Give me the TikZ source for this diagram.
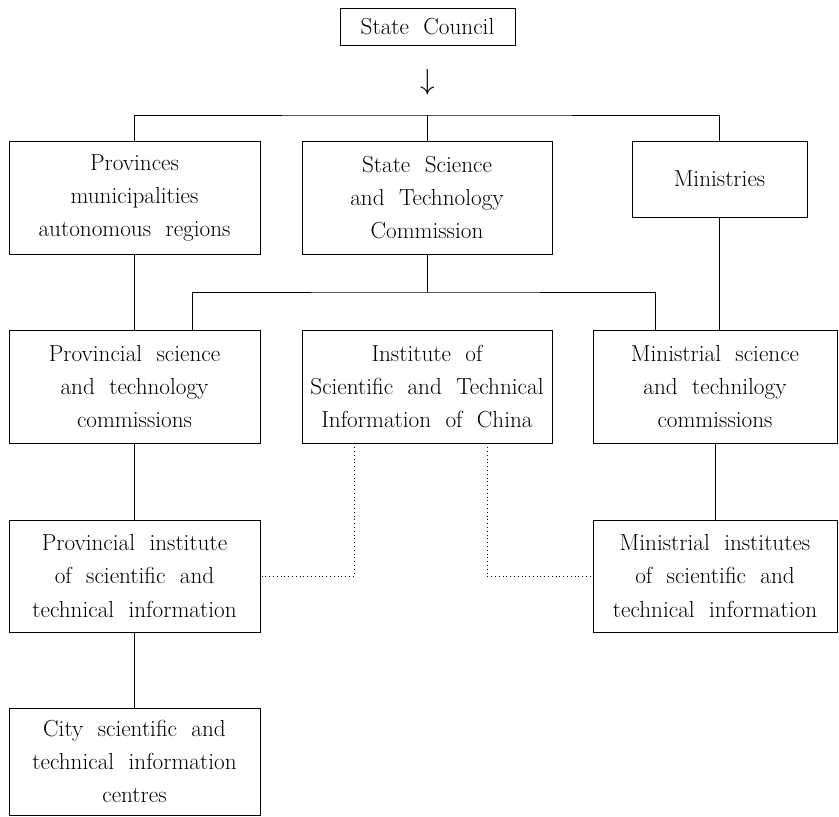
\documentclass[tikz,border=0pt]{standalone}
\usepackage{fontspec}
\usetikzlibrary{calc}
\newcommand\orgfont{\fontsize{16.5}{23.5}\selectfont\spaceskip 0.62em plus 0.1em\relax}
\begin{document}
\begin{tikzpicture}[x=0.025cm,y=-0.025cm,line width=0.6pt,
  every node/.style={align=center,font=\orgfont},
  orgbox/.style={draw,inner sep=2pt,minimum width=6.275cm,minimum height=2.825cm},
  link/.style={line width=0.7pt,dash pattern=on 0.7pt off 2pt}]
  \useasboundingbox (0,0) rectangle (839,816);
  % top of the hierarchy
  \node[draw,inner sep=2pt,minimum width=4.375cm,minimum height=0.925cm] (council) at (427.5,26.5) {State Council};
  \node[inner sep=0pt,font=\fontsize{22}{22}\selectfont] (arr) at (428,82) {$\downarrow$};
  \node[orgbox] (prov) at (134.5,197.5) {Provinces\\municipalities\\autonomous regions};
  \node[orgbox,minimum width=6.25cm] (sstc) at (427,197.5) {State Science\\and Technology\\Commission};
  \node[orgbox,minimum width=4.375cm,minimum height=1.9cm] (minis) at (719.5,179) {Ministries};
  % second row
  \node[orgbox] (psc) at (134.5,386.5) {Provincial science\\and technology\\commissions};
  \node[orgbox,minimum width=6.25cm] (istic) at (427,386.5) {Institute of\\Scientific and Technical\\Information of China};
  \node[orgbox,minimum width=6.1cm] (msc) at (715,386.5) {Ministrial science\\and technilogy\\commissions};
  % institutes
  \node[orgbox,minimum height=2.8cm] (pisti) at (134.5,576) {Provincial institute\\of scientific and\\technical information};
  \node[orgbox,minimum width=6.1cm,minimum height=2.8cm] (misti) at (715,576) {Ministrial institutes\\of scientific and\\technical information};
  \node[orgbox,minimum height=2.675cm] (city) at (134.5,761.5) {City scientific and\\technical information\\centres};
  % connectors
  \coordinate (bar1) at (427,115);
  \coordinate (bar2) at (427,292);
  \draw (prov.north) |- (bar1) -| (minis.north);
  \draw (bar1) -- (sstc.north);
  \draw (sstc.south) -- (bar2);
  \draw ($(psc.north)+(57.5,0)$) |- (bar2) -| ($(msc.north)+(-60,0)$);
  \draw (prov.south) -- (psc.north);
  \draw (minis.south) -- (minis.south |- msc.north);
  \draw (psc.south) -- (pisti.north);
  \draw (pisti.south) -- (city.north);
  \draw (msc.south) -- (misti.north);
  \draw[link] ($(istic.south)+(-73,0)$) |- (pisti.east);
  \draw[link] ($(istic.south)+(60,0)$) |- (misti.west);
\end{tikzpicture}
\end{document}
